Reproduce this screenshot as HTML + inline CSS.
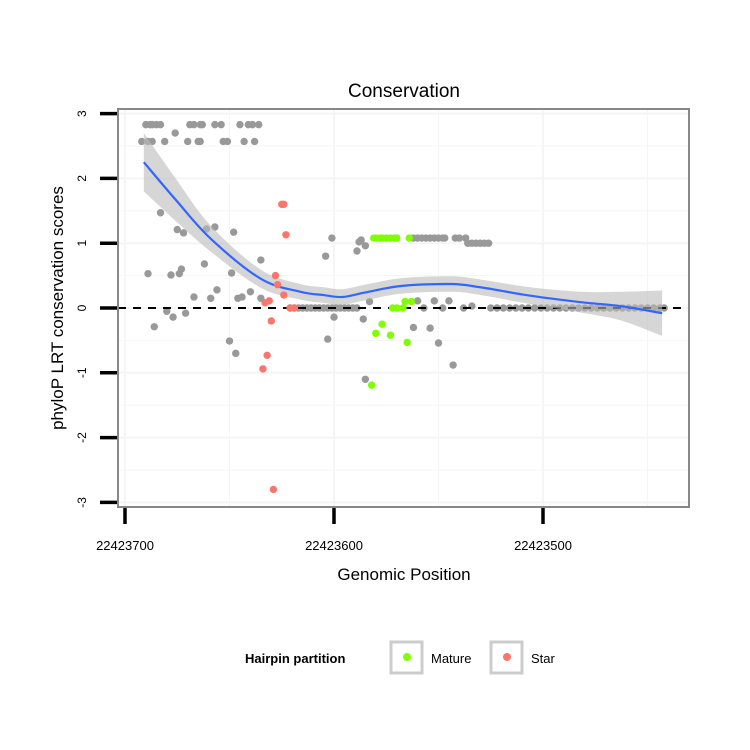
<!DOCTYPE html>
<html><head><meta charset="utf-8"><style>
body{margin:0;background:#fff;}
svg{display:block;font-family:"Liberation Sans",Arial,sans-serif;}
</style></head><body>
<svg id="chart" width="750" height="750"></svg>
<script>
const grayPos=[22423692,22423689,22423687,22423681,22423670,22423665,22423664,22423653,22423651,22423643,22423638,
22423690,22423688,22423687,22423685,22423683,22423669,22423667,22423664,22423663,22423657,22423654,22423645,22423641,22423639,22423636,
22423676,22423683,22423675,22423672,22423661,22423657,22423648,22423635,22423689,22423678,22423674,22423673,22423662,22423649,
22423667,22423659,22423656,22423646,22423644,22423640,22423635,22423680,22423677,22423671,22423686,22423650,22423647,
22423601,22423604,22423589,22423587,22423585,22423588,22423600,22423603,22423586,22423585,22423583,22423560,22423552,22423545,
22423557,22423548,22423538,22423534,22423562,22423554,22423550,22423543,
22423562,22423560,22423558,22423556,22423554,22423552,22423550,22423548,22423547,22423542,22423540,22423537,
22423536,22423534,22423532,22423530,22423528,22423526,
22423621,22423619,22423617,22423615,22423613,22423611,22423609,22423607,22423605,22423603,22423601,22423599,22423597,22423595,22423593,22423591,22423589,
22423525,22423522,22423519,22423516,22423513,22423510,22423507,22423504,22423501,22423498,22423495,22423492,22423489,22423486,22423483,22423480,22423477,22423474,22423471,22423468,22423465,22423462,22423459,22423456,22423453,22423450,22423447,22423444,22423442];
const grayScore=[2.57,2.57,2.57,2.57,2.57,2.57,2.57,2.57,2.57,2.57,2.57,
2.83,2.83,2.83,2.83,2.83,2.83,2.83,2.83,2.83,2.83,2.83,2.83,2.83,2.83,2.83,
2.7,1.47,1.21,1.16,1.22,1.25,1.17,0.74,0.53,0.51,0.53,0.6,0.68,0.54,
0.17,0.15,0.28,0.15,0.17,0.25,0.15,-0.05,-0.14,-0.08,-0.29,-0.51,-0.7,
1.08,0.8,0.88,1.05,0.96,1.02,-0.14,-0.48,-0.17,-1.1,0.1,0.11,0.11,0.11,
0,0,0,0.03,-0.3,-0.31,-0.54,-0.88,
1.08,1.08,1.08,1.08,1.08,1.08,1.08,1.08,1.08,1.08,1.08,1.08,
1.0,1.0,1.0,1.0,1.0,1.0,
0,0,0,0,0,0,0,0,0,0,0,0,0,0,0,0,0,
0,0,0,0,0,0,0,0,0,0,0,0,0,0,0,0,0,0,0,0,0,0,0,0,0,0,0,0,0];
const matPos=[22423581,22423580,22423578,22423577,22423575,22423573,22423571,22423570,22423564,22423572,22423570,22423567,22423566,22423563,22423577,22423580,22423573,22423565,22423582];
const matScore=[1.08,1.08,1.08,1.08,1.08,1.08,1.08,1.08,1.08,0,0,0,0.1,0.1,-0.25,-0.39,-0.42,-0.53,-1.19];
const starPos=[22423625,22423624,22423623,22423628,22423627,22423624,22423633,22423631,22423630,22423632,22423634,22423629,22423621,22423619];
const starScore=[1.6,1.6,1.13,0.5,0.36,0.2,0.08,0.11,-0.2,-0.73,-0.94,-2.8,0,0];
const fitPos=[22423691,22423676,22423659,22423635,22423616,22423605,22423596,22423585,22423568,22423544,22423530,22423506,22423482,22423463,22423443];
const fitVal=[2.25,1.68,1.07,0.45,0.25,0.2,0.17,0.24,0.34,0.37,0.32,0.19,0.09,0.03,-0.08];
const fitSe=[0.45,0.33,0.2,0.14,0.12,0.12,0.12,0.12,0.12,0.12,0.12,0.13,0.16,0.22,0.35];
const yTicks=[-3,-2,-1,0,1,2,3];
const xTicks=[22423700,22423600,22423500];
const xMinor=[22423650,22423550,22423450];

const NS='http://www.w3.org/2000/svg';
const svg=document.getElementById('chart');
const L=118,R=689,T=109,B=507;
const X=p=>125+(22423700-p)*2.09;
const Y=s=>308-s*64.8;
function mk(tag,attrs,parent){const e=document.createElementNS(NS,tag);for(const k in attrs)e.setAttribute(k,attrs[k]);(parent||svg).appendChild(e);return e;}

const panel=mk('rect',{x:L,y:T,width:R-L,height:B-T,fill:'#fff'});


const grid=mk('g',{stroke:'#f5f5f5'});


for(let i=0;i<yTicks.length;i++){mk('line',{x1:L,x2:R,y1:Y(yTicks[i]),y2:Y(yTicks[i]),'stroke-width':2},grid);
 if(i<yTicks.length-1){const m=(yTicks[i]+yTicks[i+1])/2;mk('line',{x1:L,x2:R,y1:Y(m),y2:Y(m),'stroke-width':1},grid);}}
xTicks.forEach(t=>mk('line',{x1:X(t),x2:X(t),y1:T,y2:B,'stroke-width':2},grid));
xMinor.forEach(t=>mk('line',{x1:X(t),x2:X(t),y1:T,y2:B,'stroke-width':1},grid));

function dots(ps,ss,col,name){const g=mk('g',{fill:col});
 
 
 for(let i=0;i<ps.length;i++){const c=mk('circle',{cx:X(ps[i]),cy:Y(ss[i]),r:3.7},g);
  
  }}
dots(grayPos,grayScore,'#999999','other-points');

const zl=mk('line',{x1:L,x2:R,y1:Y(0),y2:Y(0),stroke:'#000','stroke-width':2,'stroke-dasharray':'8,7'});



function smooth(pts){let d='M'+pts[0][0]+','+pts[0][1];for(let i=0;i<pts.length-1;i++){const p0=pts[Math.max(0,i-1)],p1=pts[i],p2=pts[i+1],p3=pts[Math.min(pts.length-1,i+2)];
 d+='C'+(p1[0]+(p2[0]-p0[0])/6)+','+(p1[1]+(p2[1]-p0[1])/6)+' '+(p2[0]-(p3[0]-p1[0])/6)+','+(p2[1]-(p3[1]-p1[1])/6)+' '+p2[0]+','+p2[1];}return d;}
const up=fitPos.map((p,i)=>[X(p),Y(fitVal[i]+fitSe[i])]);
const lo=fitPos.map((p,i)=>[X(p),Y(fitVal[i]-fitSe[i])]).reverse();
const bp=mk('path',{d:smooth(up)+smooth(lo).replace('M','L')+'Z',fill:'#bbbbbb','fill-opacity':0.6});


const fl=mk('path',{d:smooth(fitPos.map((p,i)=>[X(p),Y(fitVal[i])])),fill:'none',stroke:'#3366ff','stroke-width':2.2});



dots(matPos,matScore,'#7fff00','mature-points');
dots(starPos,starScore,'#f8766d','star-points');

const br=mk('rect',{x:L,y:T,width:R-L,height:B-T,fill:'none',stroke:'#888','stroke-width':2});



const ya=mk('g',{});


yTicks.forEach(t=>{mk('line',{x1:100,x2:117,y1:Y(t),y2:Y(t),stroke:'#000','stroke-width':3.5},ya);
 const tx=mk('text',{x:0,y:0,transform:`translate(86,${Y(t)}) rotate(-90)`,'text-anchor':'middle','font-size':12},ya);tx.textContent=t;
 
 });
const xa=mk('g',{});


xTicks.forEach(t=>{mk('line',{x1:X(t),x2:X(t),y1:508,y2:524,stroke:'#000','stroke-width':3.5},xa);
 const tx=mk('text',{x:X(t),y:550,'text-anchor':'middle','font-size':13},xa);tx.textContent=t;
 
 });
</script>
<svg width="750" height="750" style="position:absolute;left:0;top:0;font-family:'Liberation Sans',Arial,sans-serif">
<text x="404" y="97" text-anchor="middle" font-size="19">Conservation</text>
<text x="0" y="0" transform="translate(63,308) rotate(-90)" text-anchor="middle" font-size="17">phyloP LRT conservation scores</text>
<text x="404" y="580" text-anchor="middle" font-size="17">Genomic Position</text>
<g>
<text x="245" y="663" font-size="13" font-weight="bold">Hairpin partition</text>
<rect x="391" y="642" width="31" height="31" fill="#fff" stroke="#ccc" stroke-width="3"/>
<circle cx="407" cy="657" r="4" fill="#7fff00"/>
<text x="431" y="663" font-size="13">Mature</text>
<rect x="491" y="642" width="31" height="31" fill="#fff" stroke="#ccc" stroke-width="3"/>
<circle cx="507" cy="657" r="4" fill="#f8766d"/>
<text x="531" y="663" font-size="13">Star</text>
</g>
</svg>
</body></html>
